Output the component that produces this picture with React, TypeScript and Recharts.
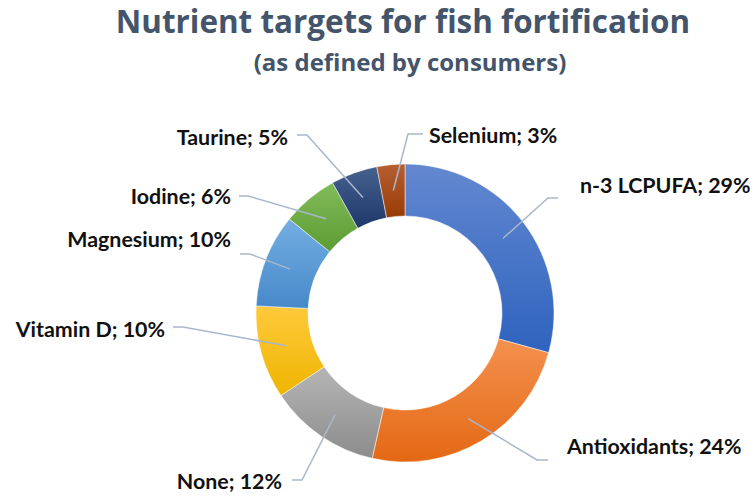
import React from 'react';
import { PieChart, Pie, Cell } from 'recharts';

const nutrients = ['n-3 LCPUFA', 'Antioxidants', 'None', 'Vitamin D', 'Magnesium', 'Iodine', 'Taurine', 'Selenium'];
const shares = [29, 24, 12, 10, 10, 6, 5, 3];

// gradient stops per slice (top colour, bottom colour)
const topColors = ['#6388D0', '#F4914F', '#B5B5B5', '#FFC93C', '#74AEE2', '#82BB5B', '#46638F', '#B65F33'];
const bottomColors = ['#2E63BE', '#E46814', '#8C8C8C', '#EEB500', '#4689C9', '#5C9C33', '#1E376A', '#983B05'];

// hand placed label spots, relative to pie centre: elbow, end of short horizontal, text anchor
const labelSpots = [
  { ex: 143, ey: -115, hx: 153, tx: 175, ty: -120, anchor: 'start' },
  { ex: 132, ey: 147, hx: 143, tx: 162, ty: 141, anchor: 'start' },
  { ex: -103, ey: 167, hx: -113, tx: -123, ty: 176, anchor: 'end' },
  { ex: -222, ey: 14, hx: -232, tx: -240, ty: 24, anchor: 'end' },
  { ex: -155, ey: -59, hx: -165, tx: -174, ty: -66, anchor: 'end' },
  { ex: -157, ey: -117, hx: -166, tx: -174, ty: -109, anchor: 'end' },
  { ex: -98, ey: -178, hx: -108, tx: -117, ty: -168, anchor: 'end' },
  { ex: 3, ey: -179, hx: 18, tx: 24, ty: -170, anchor: 'start' },
];

const data = nutrients.map((name, i) => ({ name, value: shares[i] }));

const RAD = Math.PI / 180;
const FONT = 'Lato, "Open Sans", sans-serif';
const TITLE_FONT = '"Open Sans", Lato, sans-serif';

const renderLabel = (props: any) => {
  const { cx, cy, midAngle, innerRadius, outerRadius, index, name, value } = props;
  const r = (innerRadius + outerRadius) / 2;
  const sx = cx + r * Math.cos(-midAngle * RAD);
  const sy = cy + r * Math.sin(-midAngle * RAD);
  const spot = labelSpots[index];
  return (
    <g key={`lbl-${index}`}>
      <polyline
        points={`${sx},${sy} ${cx + spot.ex},${cy + spot.ey} ${cx + spot.hx},${cy + spot.ey}`}
        fill="none"
        stroke="#A9B7CA"
        strokeWidth={1.5}
      />
      <text
        x={cx + spot.tx}
        y={cy + spot.ty}
        textAnchor={spot.anchor}
        fontFamily={FONT}
        fontWeight={700}
        fontSize={21.4}
        fill="#111111"
      >
        {`${name}; ${value}%`}
      </text>
    </g>
  );
};

export default function App() {
  return (
    <div style={{ position: 'absolute', left: 0, top: 0, width: 754, height: 497, background: '#fff' }}>
      <svg width={754} height={497} style={{ position: 'absolute', left: 0, top: 0 }}>
        <defs>
          {nutrients.map((n, i) => (
            <linearGradient key={n} id={`grad${i}`} x1="0" y1="0" x2="0" y2="1">
              <stop offset="0%" stopColor={topColors[i]} />
              <stop offset="100%" stopColor={bottomColors[i]} />
            </linearGradient>
          ))}
        </defs>
        <text x={403} y={33} textAnchor="middle" fontFamily={TITLE_FONT} fontWeight={700} fontSize={31.4} fill="#44546A">
          Nutrient targets for fish fortification
        </text>
        <text x={410} y={71} textAnchor="middle" fontFamily={TITLE_FONT} fontWeight={700} fontSize={24} fill="#44546A">
          (as defined by consumers)
        </text>
      </svg>
      <div style={{ position: 'absolute', left: 0, top: 0 }}>
        <PieChart width={754} height={497} margin={{ top: 0, right: 0, bottom: 0, left: 0 }}>
          <Pie
            data={data}
            dataKey="value"
            nameKey="name"
            cx={405}
            cy={313}
            innerRadius={97}
            outerRadius={149}
            startAngle={90}
            endAngle={-270}
            stroke="#ffffff"
            strokeWidth={0.5}
            label={renderLabel}
            labelLine={false}
            isAnimationActive={false}
          >
            {data.map((d, i) => (
              <Cell key={d.name} fill={`url(#grad${i})`} />
            ))}
          </Pie>
        </PieChart>
      </div>
    </div>
  );
}
